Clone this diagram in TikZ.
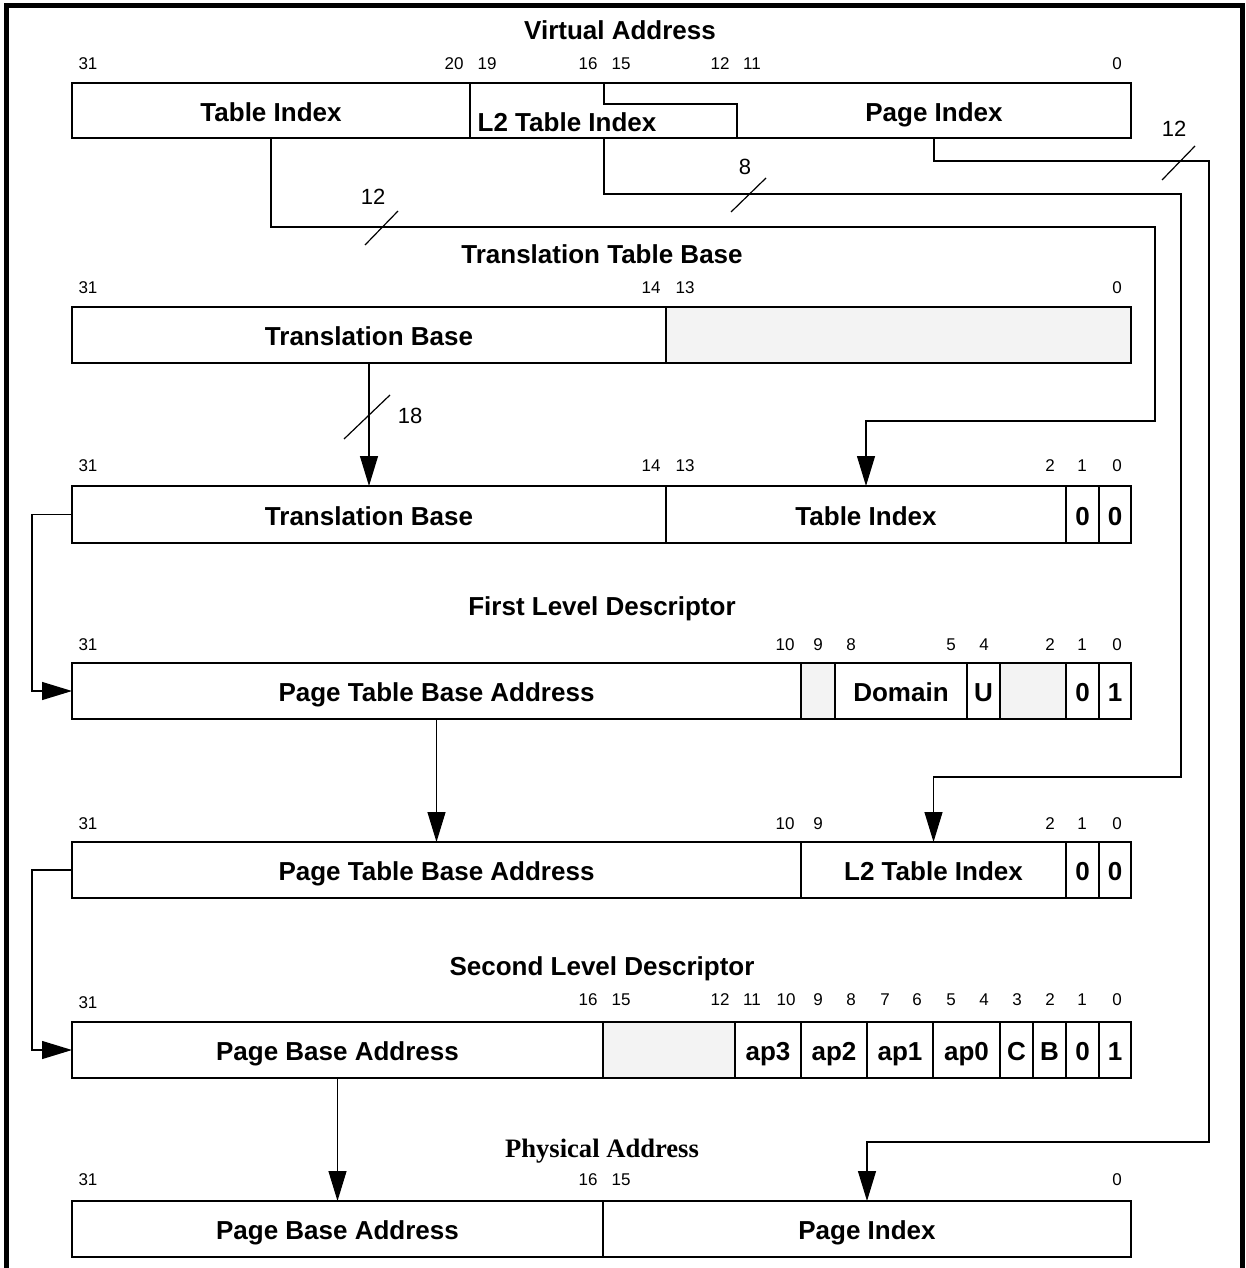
\documentclass[tikz,border=0pt]{standalone}
\usepackage{fontspec}
\setmainfont{Liberation Sans}
\newfontfamily\tms{Liberation Serif}
\usetikzlibrary{arrows.meta}
\definecolor{gfill}{HTML}{F3F3F3}
\tikzset{
  fldbase/.style={inner sep=0pt, outer sep=0pt, text height=10.8pt, text depth=0pt, font=\bfseries\fontsize{13}{15}\selectfont},
  fld/.style={fldbase, draw, line width=0.75pt},
  nfld/.style={fldbase},
  gfld/.style={fld, fill=gfill},
  bit/.style={inner sep=0pt, font=\fontsize{8.5}{10}\selectfont},
  ttl/.style={inner sep=0pt, font=\bfseries\fontsize{13}{15}\selectfont},
  wlbl/.style={inner sep=0pt, font=\fontsize{11}{13}\selectfont},
  wire/.style={line width=0.6pt},
  arr/.style={wire, -{Triangle[length=15pt,width=9pt]}},
  boxline/.style={line width=0.75pt}
}
% \fldbox[style]{name}{x1}{y1}{x2}{y2}{text}
\newcommand\fldbox[7][fld]{%
  \node[#1, minimum width={(#5-#3)*0.5pt}, minimum height={(#6-#4)*0.5pt}]
    (#2) at ({(#3+#5)/2},{(#4+#6)/2}) {#7};}
\begin{document}
\begin{tikzpicture}[x=0.5pt,y=-0.5pt]
\useasboundingbox (0,0) rectangle (1246,1268);
\clip (0,0) rectangle (1246,1268);
\draw[line width=2.5pt] (6.5,6) rectangle (1242,1300);

% ---------- Virtual Address ----------
\node[ttl] (tVA) at (620,30) {Virtual Address};
\foreach \x/\t in {88/31,454/20,487/19,588/16,621/15,720/12,752/11,1117/0}
  \node[bit] at (\x,64) {\t};
\fldbox{vaTI}{72}{83}{470}{138}{Table Index}
\draw[boxline] (vaTI.north east) -- (1131,83) -- (1131,138) -- (vaTI.south east);
\draw[boxline] (604,83) -- (604,104) -- (737,104) -- (737,138);
\fldbox[nfld]{vaPI}{737}{83}{1131}{138}{Page Index}
\node[nfld] (vaL2) at (567,121) {L2 Table Index};
\coordinate (vaL2o) at (604,138);

% ---------- Translation Table Base ----------
\node[ttl] (tTTB) at (602,254) {Translation Table Base};
\foreach \x/\t in {88/31,651/14,685/13,1117/0}
  \node[bit] at (\x,288) {\t};
\fldbox{ttbTB}{72}{307}{666}{363}{Translation Base}
\fldbox[gfld]{ttbR}{666}{307}{1131}{363}{}

% ---------- Row 3 ----------
\foreach \x/\t in {88/31,651/14,685/13,1050/2,1082/1,1117/0}
  \node[bit] at (\x,466) {\t};
\fldbox{r3TB}{72}{486}{666}{543}{Translation Base}
\fldbox{r3TI}{666}{486}{1066}{543}{Table Index}
\fldbox{r3b1}{1066}{486}{1099}{543}{0}
\fldbox{r3b0}{1099}{486}{1131}{543}{0}

% ---------- First Level Descriptor ----------
\node[ttl] (tFLD) at (602,609) {First Level Descriptor};
\foreach \x/\t in {88/31,785/10,818/9,851/8,951/5,984/4,1050/2,1082/1,1117/0}
  \node[bit] at (\x,645) {\t};
\fldbox{l1PT}{72}{663}{801}{719}{Page Table Base Address}
\fldbox[gfld]{l1g9}{801}{663}{835}{719}{}
\fldbox{l1Dom}{835}{663}{967}{719}{Domain}
\fldbox{l1U}{967}{663}{1000}{719}{U}
\fldbox[gfld]{l1g2}{1000}{663}{1066}{719}{}
\fldbox{l1b1}{1066}{663}{1099}{719}{0}
\fldbox{l1b0}{1099}{663}{1131}{719}{1}

% ---------- Row 5 ----------
\foreach \x/\t in {88/31,785/10,818/9,1050/2,1082/1,1117/0}
  \node[bit] at (\x,824) {\t};
\fldbox{r5PT}{72}{842}{801}{898}{Page Table Base Address}
\fldbox{r5L2}{801}{842}{1066}{898}{L2 Table Index}
\fldbox{r5b1}{1066}{842}{1099}{898}{0}
\fldbox{r5b0}{1099}{842}{1131}{898}{0}

% ---------- Second Level Descriptor ----------
\node[ttl] (tSLD) at (602,969) {Second Level Descriptor};
\node[bit] at (88,1003) {31};
\foreach \x/\t in {588/16,621/15,720/12,752/11,786/10,818/9,851/8,885/7,917/6,951/5,984/4,1017/3,1050/2,1082/1,1117/0}
  \node[bit] at (\x,1000) {\t};
\fldbox{l2PB}{72}{1022}{603}{1078}{Page Base Address}
\fldbox[gfld]{l2g}{603}{1022}{735}{1078}{}
\fldbox{l2ap3}{735}{1022}{801}{1078}{ap3}
\fldbox{l2ap2}{801}{1022}{867}{1078}{ap2}
\fldbox{l2ap1}{867}{1022}{933}{1078}{ap1}
\fldbox{l2ap0}{933}{1022}{1000}{1078}{ap0}
\fldbox{l2C}{1000}{1022}{1033}{1078}{C}
\fldbox{l2B}{1033}{1022}{1066}{1078}{B}
\fldbox{l2b1}{1066}{1022}{1099}{1078}{0}
\fldbox{l2b0}{1099}{1022}{1131}{1078}{1}

% ---------- Physical Address ----------
\node[inner sep=0pt, font=\tms\bfseries\fontsize{13.3}{15}\selectfont] (tPA) at (602,1151) {Physical Address};
\foreach \x/\t in {88/31,588/16,621/15,1117/0}
  \node[bit] at (\x,1180) {\t};
\fldbox{paPB}{72}{1201}{603}{1257}{Page Base Address}
\fldbox{paPI}{603}{1201}{1131}{1257}{Page Index}

% ---------- Connectors ----------
\draw[arr] (vaTI.south) |- (1155,227) -- (1155,421) -| (r3TI.north);
\draw[arr] (vaL2o) |- (1181,194) -- (1181,777) -| (r5L2.north);
\draw[arr] (vaPI.south) |- (1209,161) -- (1209,1142) -| (paPI.north);
\draw[arr] (ttbTB.south) -- (r3TB.north);
\draw[arr] (r3TB.west) -- (32,514.5) |- (l1PT.west);
\draw[arr] (l1PT.south) -- (r5PT.north);
\draw[arr] (r5PT.west) -- (32,870) |- (l2PB.west);
\draw[arr] (l2PB.south) -- (paPB.north);

% ---------- Bus-width marks ----------
\draw[wire] (365,245) -- (398,211);
\node[wlbl] (w12a) at (373,197) {12};
\draw[wire] (731,212) -- (766,178);
\node[wlbl] (w8) at (745,167) {8};
\draw[wire] (1162,180) -- (1195,146);
\node[wlbl] (w12b) at (1174,129) {12};
\draw[wire] (344,439) -- (390,395);
\node[wlbl] (w18) at (410,416) {18};
\end{tikzpicture}
\end{document}
